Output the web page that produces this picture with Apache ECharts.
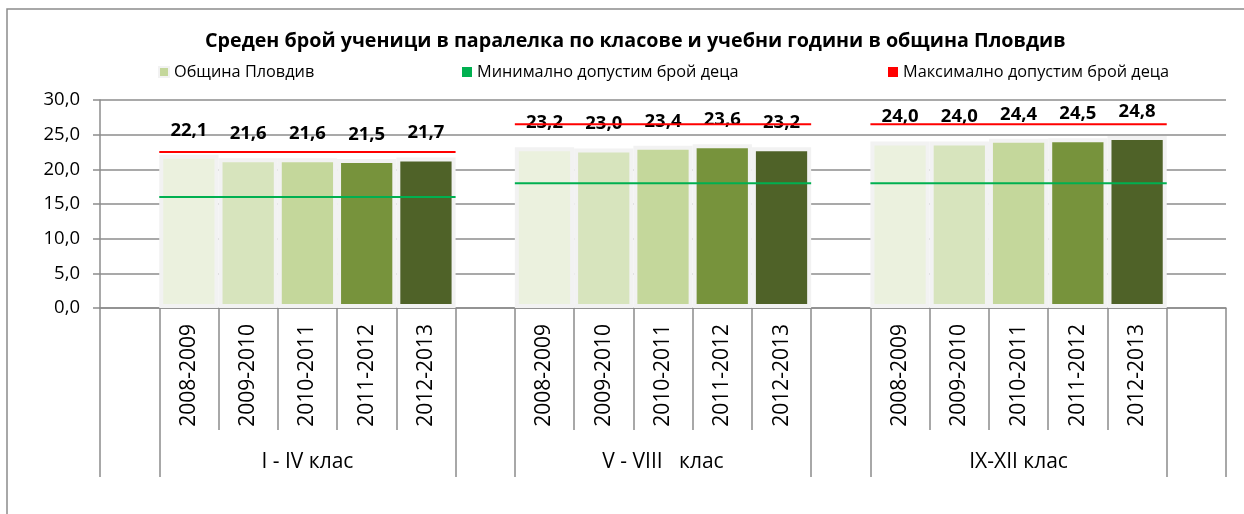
<!DOCTYPE html>
<html><head><meta charset="utf-8">
<script src="https://cdn.jsdelivr.net/npm/echarts@6/dist/echarts.min.js"></script>
<style>html,body{margin:0;padding:0;background:#fff}#c{width:1244px;height:514px}</style>
</head><body><div id="c"></div>
<script>
// ---- data ----
const chartTitle = 'Среден брой ученици в паралелка по класове и учебни години в община Пловдив';
const groups = ['I - IV клас', 'V - VIII   клас', 'IX-XII клас'];
const years = ['2008-2009', '2009-2010', '2010-2011', '2011-2012', '2012-2013'];
const avgI_IV = [22.1, 21.6, 21.6, 21.5, 21.7];
const avgV_VIII = [23.2, 23.0, 23.4, 23.6, 23.2];
const avgIX_XII = [24.0, 24.0, 24.4, 24.5, 24.8];
const minAllowed = [16, 18, 18];
const maxAllowed = [22.5, 26.5, 26.5];
const yTickMin = 0, yTickMax = 30, yTickStep = 5;
const seriesNames = ['Община Пловдив', 'Минимално допустим брой деца', 'Максимално допустим брой деца'];

// ---- styles ----
const FONT = 'Open Sans';
const yearColors = ['#EBF1DE', '#D7E4BD', '#C4D79B', '#77933C', '#4F6228'];
const gridGray = '#8C8C8C';

// ---- build category layout: blank slot, 5 years, blank slot, ... ----
const groupValues = [avgI_IV, avgV_VIII, avgIX_XII];
const cats = [];
const barData = [];
const groupStart = [];
groupValues.forEach((vals, g) => {
  cats.push(''); barData.push('-');
  groupStart.push(cats.length);
  vals.forEach((v, j) => {
    cats.push(years[j]);
    barData.push({ value: v, itemStyle: { color: yearColors[j] } });
  });
});
cats.push(''); barData.push('-');
const nCat = cats.length;
const longTicks = new Set();
groupStart.forEach(s => { longTicks.add(s - 1); longTicks.add(s); longTicks.add(s + years.length); });
const groupCenter = {};
groupStart.forEach((s, g) => { groupCenter[s + Math.floor(years.length / 2)] = groups[g]; });

const lineSeries = [];
groupStart.forEach((s, g) => {
  lineSeries.push({
    name: seriesNames[1], type: 'line', xAxisIndex: 2, symbol: 'none', z: 3,
    lineStyle: { color: '#00B050', width: 2 }, itemStyle: { color: '#00B050' },
    data: [[s, minAllowed[g]], [s + years.length, minAllowed[g]]], silent: true
  });
  lineSeries.push({
    name: seriesNames[2], type: 'line', xAxisIndex: 2, symbol: 'none', z: 3,
    lineStyle: { color: '#FF0000', width: 2 }, itemStyle: { color: '#FF0000' },
    data: [[s, maxAllowed[g]], [s + years.length, maxAllowed[g]]], silent: true
  });
});

const fmt = v => Number(v).toFixed(1).replace('.', ',');

const chart = echarts.init(document.getElementById('c'), null, { renderer: 'canvas' });
const legendBase = { itemWidth: 10, itemHeight: 10, top: 64, padding: 0, icon: 'rect',
  textStyle: { fontFamily: FONT, fontSize: 16.3, color: '#000' }, selectedMode: false };
chart.setOption({
  animation: false,
  backgroundColor: '#fff',
  textStyle: { fontFamily: FONT },
  title: { text: chartTitle, left: 205, top: 31, padding: 0,
    textStyle: { fontFamily: FONT, fontSize: 19.7, fontWeight: 'bold', color: '#000' } },
  legend: [
    Object.assign({}, legendBase, { left: 158, data: [{ name: seriesNames[0], itemStyle: { color: '#C4D79B', borderColor: '#F2F2F2', borderWidth: 2 } }] }),
    Object.assign({}, legendBase, { left: 462, data: [{ name: seriesNames[1], itemStyle: { color: '#00B050' } }] }),
    Object.assign({}, legendBase, { left: 888, data: [{ name: seriesNames[2], itemStyle: { color: '#FF0000' } }] })
  ],
  graphic: [{ type: 'rect', shape: { x: 7, y: 9, width: 1500, height: 800 }, style: { fill: null, stroke: '#8C8C8C', lineWidth: 1.5 }, silent: true, z: -10 }],
  grid: { left: 100, right: 18, top: 100, bottom: 206 },
  xAxis: [
    { type: 'category', data: cats, position: 'bottom',
      axisLine: { lineStyle: { color: gridGray, width: 1.5 } },
      axisTick: { show: true, interval: 0, length: 122, lineStyle: { color: gridGray, width: 1.5 } },
      axisLabel: { interval: 0, rotate: 90, margin: 16, fontSize: 21, color: '#000', fontFamily: FONT } },
    { type: 'category', data: cats, position: 'bottom',
      axisLine: { show: false },
      axisTick: { show: true, interval: (i) => longTicks.has(i), length: 169, lineStyle: { color: gridGray, width: 1.5 } },
      axisLabel: { interval: (i) => groupCenter[i] !== undefined, formatter: (v, i) => groupCenter[i] || '',
        margin: 144, fontSize: 21, color: '#000', fontFamily: FONT } },
    { type: 'value', min: 0, max: nCat, show: false }
  ],
  yAxis: { type: 'value', min: yTickMin, max: yTickMax, interval: yTickStep,
    axisLine: { show: true, lineStyle: { color: gridGray, width: 1.5 } },
    axisTick: { show: true, length: 7, lineStyle: { color: gridGray, width: 1.5 } },
    axisLabel: { formatter: fmt, margin: 20, fontSize: 18.5, color: '#000', fontFamily: FONT },
    splitLine: { lineStyle: { color: gridGray, width: 1.5 } } },
  series: [
    { name: seriesNames[0], type: 'bar', xAxisIndex: 0, barCategoryGap: '0%', z: 2,
      itemStyle: { color: '#C4D79B', borderColor: '#F2F2F2', borderWidth: 4 },
      label: { show: true, position: 'top', distance: 15, formatter: p => fmt(p.value),
        fontFamily: FONT, fontSize: 18.5, fontWeight: 'bold', color: '#000' },
      data: barData }
  ].concat(lineSeries)
});
</script></body></html>
